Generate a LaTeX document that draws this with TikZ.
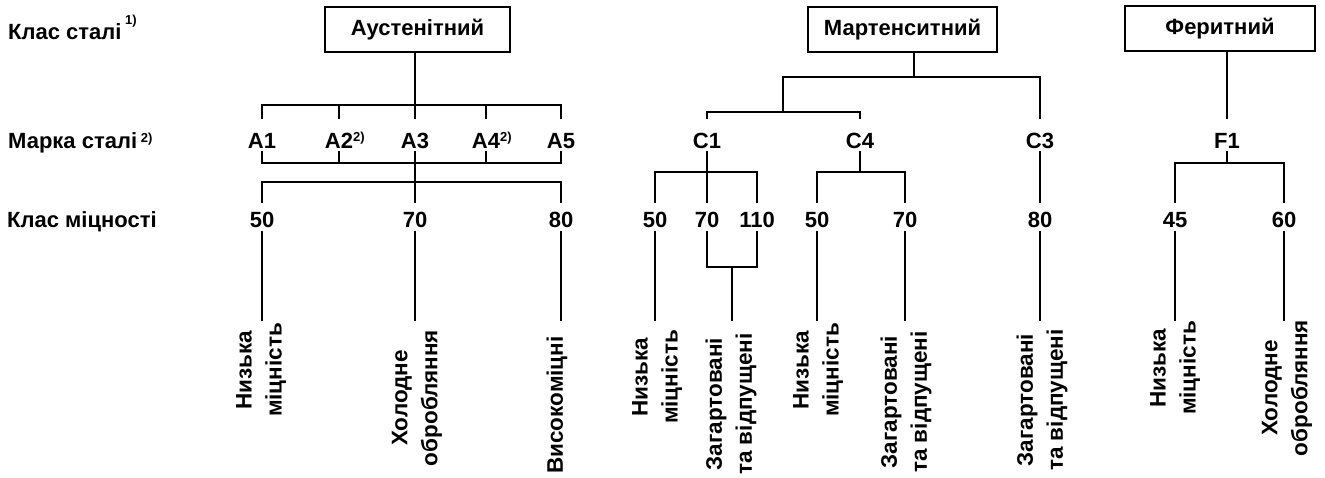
\documentclass[tikz,border=0pt]{standalone}
\usepackage{fontspec}
\usetikzlibrary{calc}
\setmainfont{Liberation Sans}
\newcommand\dgfont{\fontsize{22}{24}\selectfont\bfseries}
\newcommand\dgrot{\fontsize{22.5}{30}\selectfont\bfseries}
\newcommand\dgsup[2]{{\fontsize{13}{13}\selectfont\bfseries\raisebox{#1}{#2}}}
\begin{document}
\begin{tikzpicture}[x=1pt,y=1pt,
  ln/.style={line width=2.6pt, line cap=rect},
  box/.style={draw, line width=2.2pt, minimum height=45pt, inner sep=0pt, font=\dgfont},
  grade/.style={anchor=base, text height=30pt, text depth=4pt, inner sep=0pt, font=\dgfont},
  num/.style={anchor=base, text height=25pt, text depth=5pt, inner sep=0pt, font=\dgfont},
  lab/.style={rotate=90, align=center, inner sep=0pt, font=\dgrot},
  rowlab/.style={anchor=base west, inner sep=0pt, font=\dgfont}]
\path[use as bounding box] (0,0) rectangle (1325,-477);
% row labels
\node[rowlab] (r1) at (8,-39) {Клас сталі\,\dgsup{15pt}{1)}};
\node[rowlab] (r2) at (8,-148) {Марка сталі\,\dgsup{6pt}{2)}};
\node[rowlab] (r3) at (7,-227) {Клас міцності};
% helper levels
\coordinate (bot) at (0,-320);
% ---------------- Austenitic
\node[box, minimum width=185pt] (aust) at (417.5,-29.5) {Аустенітний};
\node[grade] (A1) at (262,-148) {A1};
\node[grade] (A2) at (339,-148) {A2\rlap{\dgsup{7pt}{2)}}};
\node[grade] (A3) at (415,-148) {A3};
\node[grade] (A4) at (486,-148) {A4\rlap{\dgsup{7pt}{2)}}};
\node[grade] (A5) at (561,-148) {A5};
\coordinate (abar1) at (0,-105);
\coordinate (abar2) at (0,-163);
\coordinate (abar3) at (0,-182);
\node[num] (a50) at (262,-227) {50};
\node[num] (a70) at (415,-227) {70};
\node[num] (a80) at (561,-227) {80};
\draw[ln] (A3.north |- aust.south) -- (A3.north);
\draw[ln] (A1.north) -- (A1.north |- abar1) -- (A5.north |- abar1) -- (A5.north);
\draw[ln] (A2.north) -- (A2.north |- abar1);
\draw[ln] (A4.north) -- (A4.north |- abar1);
\draw[ln] (A1.south) -- (A1.south |- abar2) -- (A5.south |- abar2) -- (A5.south);
\draw[ln] (A2.south) -- (A2.south |- abar2);
\draw[ln] (A4.south) -- (A4.south |- abar2);
\draw[ln] (A3.south) -- (a70.north);
\draw[ln] (a50.north) -- (a50.north |- abar3) -- (a80.north |- abar3) -- (a80.north);
\node[lab] (t1) at (261,-370) {Низька\\міцність};
\node[lab] (t2) at (417,-398) {Холодне\\обробляння};
\node[lab] (t3) at (557,-405) {Високоміцні};
\draw[ln] (a50.south) -- (a50.south |- bot);
\draw[ln] (a70.south) -- (a70.south |- bot);
\draw[ln] (a80.south) -- (a80.south |- bot);
% ---------------- Martensitic
\node[box, minimum width=189pt] (mart) at (902.5,-29.5) {Мартенситний};
\node[grade] (C1) at (707,-148) {C1};
\node[grade] (C4) at (860,-148) {C4};
\node[grade] (C3) at (1040,-148) {C3};
\coordinate (mtop) at (914,-77);
\coordinate (mleft) at (783,-77);
\coordinate (mbar) at (0,-112);
\coordinate (cbar) at (0,-172);
\coordinate (qbar) at (0,-267);
\draw[ln] (mtop |- mart.south) -- (mtop);
\draw[ln] (mleft |- mbar) -- (mleft) -- (C3.north |- mtop) -- (C3.north);
\draw[ln] (C1.north) -- (C1.north |- mbar) -- (C4.north |- mbar) -- (C4.north);
\node[num] (c50) at (655,-227) {50};
\node[num] (c70) at (707,-227) {70};
\node[num] (c110) at (757,-227) {110};
\node[num] (d50) at (817,-227) {50};
\node[num] (d70) at (905,-227) {70};
\node[num] (e80) at (1040,-227) {80};
\draw[ln] (C1.south) -- (c70.north);
\draw[ln] (c50.north) -- (c50.north |- cbar) -- (c110.north |- cbar) -- (c110.north);
\draw[ln] (C4.south) -- (C4.south |- cbar);
\draw[ln] (d50.north) -- (d50.north |- cbar) -- (d70.north |- cbar) -- (d70.north);
\draw[ln] (C3.south) -- (e80.north);
\coordinate (qmid) at ($(c70.south)!0.5!(c110.south)$);
\draw[ln] (c70.south) -- (c70.south |- qbar) -- (c110.south |- qbar) -- (c110.south);
\draw[ln] (qmid |- qbar) -- (qmid |- bot);
\draw[ln] (c50.south) -- (c50.south |- bot);
\draw[ln] (d50.south) -- (d50.south |- bot);
\draw[ln] (d70.south) -- (d70.south |- bot);
\draw[ln] (e80.south) -- (e80.south |- bot);
\node[lab] (t4) at (657,-377) {Низька\\міцність};
\node[lab] (t5) at (731,-404) {Загартовані\\та відпущені};
\node[lab] (t6) at (818,-370) {Низька\\міцність};
\node[lab] (t7) at (906,-402) {Загартовані\\та відпущені};
\node[lab] (t8) at (1042,-400) {Загартовані\\та відпущені};
% ---------------- Ferritic
\node[box, minimum width=190pt] (fer) at (1220,-28.5) {Феритний};
\node[grade] (F1) at (1227,-148) {F1};
\node[num] (f45) at (1175,-227) {45};
\node[num] (f60) at (1284,-227) {60};
\coordinate (fbar) at (0,-163);
\draw[ln] (F1.north |- fer.south) -- (F1.north);
\draw[ln] (F1.south) -- (F1.south |- fbar);
\draw[ln] (f45.north) -- (f45.north |- fbar) -- (f60.north |- fbar) -- (f60.north);
\draw[ln] (f45.south) -- (f45.south |- bot);
\draw[ln] (f60.south) -- (f60.south |- bot);
\node[lab] (t9) at (1175,-368) {Низька\\міцність};
\node[lab] (t10) at (1287,-388) {Холодне\\обробляння};
\end{tikzpicture}
\end{document}
